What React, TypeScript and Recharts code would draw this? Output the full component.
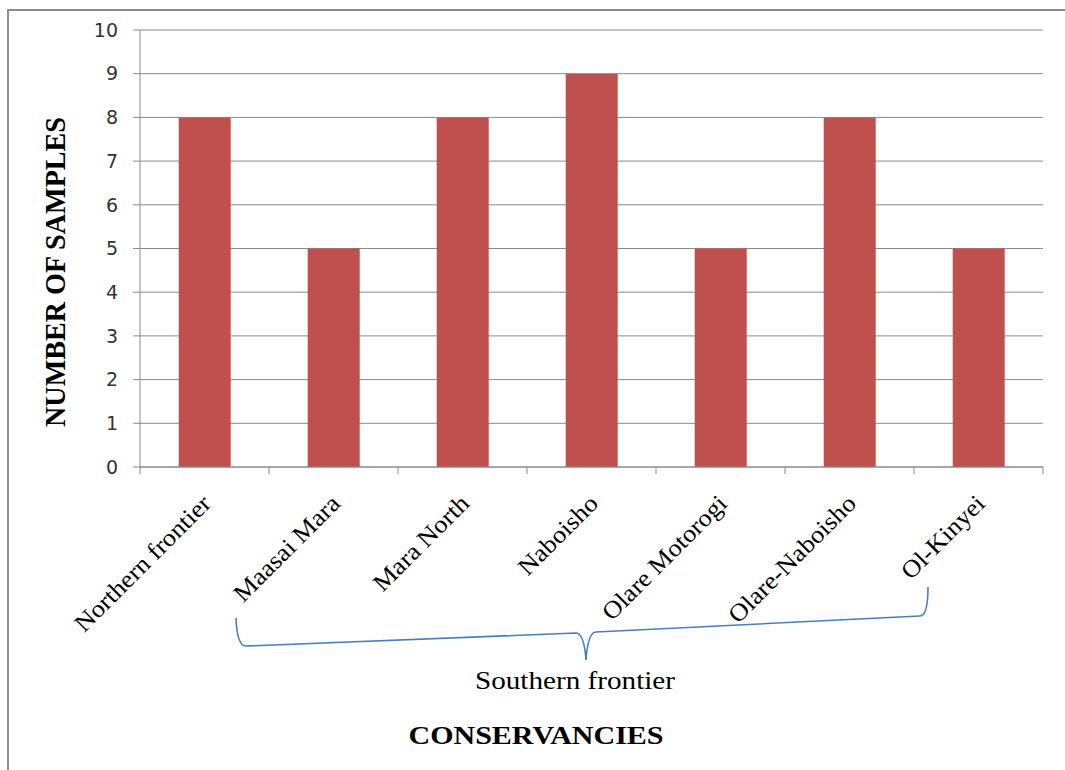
import React from "react";
import { BarChart, Bar, XAxis, YAxis, CartesianGrid } from "recharts";

// Samples collected per conservancy
const conservancies = [
  "Northern frontier",
  "Maasai Mara",
  "Mara North",
  "Naboisho",
  "Olare Motorogi",
  "Olare-Naboisho",
  "Ol-Kinyei",
];
const sampleCounts = [8, 5, 8, 9, 5, 8, 5];
const yTicks = [0, 1, 2, 3, 4, 5, 6, 7, 8, 9, 10];

const data = conservancies.map((name, i) => ({ name, samples: sampleCounts[i] }));

const W = 1065;
const H = 770;
const PLOT_LEFT = 140;
const PLOT_RIGHT = 1043;
const PLOT_TOP = 30;
const PLOT_BOTTOM = 467;
const BAND = (PLOT_RIGHT - PLOT_LEFT) / conservancies.length;

const AXIS_GREY = "#8a8a8a";
const SERIF = "'Liberation Serif', 'Times New Roman', serif";

const XTick = (props: any) => {
  const { x, payload, index } = props;
  const isLast = index === conservancies.length - 1;
  return (
    <g>
      <line x1={x - BAND / 2} x2={x - BAND / 2} y1={PLOT_BOTTOM} y2={PLOT_BOTTOM + 7} stroke={AXIS_GREY} />
      {isLast && (
        <line x1={x + BAND / 2} x2={x + BAND / 2} y1={PLOT_BOTTOM} y2={PLOT_BOTTOM + 7} stroke={AXIS_GREY} />
      )}
      <g transform={`translate(${x + 8},${PLOT_BOTTOM + 38}) rotate(-45) scale(1.08,1)`}>
        <text textAnchor="end" fontFamily={SERIF} fontSize={24.5} fill="#000">
          {payload.value}
        </text>
      </g>
    </g>
  );
};

export default function App() {
  return (
    <div style={{ position: "absolute", left: 0, top: 0, width: W, height: H, background: "#fff", overflow: "hidden" }}>
      {/* chart frame */}
      <div
        style={{
          position: "absolute",
          left: 7,
          top: 9,
          width: W,
          height: H,
          borderTop: "2px solid #8c8c8c",
          borderLeft: "2px solid #8c8c8c",
        }}
      />
      <div style={{ position: "absolute", left: 0, top: 0 }}>
        <BarChart
          width={W}
          height={H}
          data={data}
          margin={{ top: PLOT_TOP, right: W - PLOT_RIGHT, bottom: 200, left: 0 }}
          barCategoryGap="30%"
        >
          <CartesianGrid vertical={false} stroke={AXIS_GREY} strokeWidth={1} />
          <XAxis
            dataKey="name"
            interval={0}
            height={H - PLOT_BOTTOM - 200}
            axisLine={{ stroke: AXIS_GREY }}
            tickLine={false}
            tick={<XTick />}
          />
          <YAxis
            width={PLOT_LEFT}
            domain={[0, 10]}
            ticks={yTicks}
            interval={0}
            axisLine={{ stroke: AXIS_GREY }}
            tickLine={{ stroke: AXIS_GREY }}
            tickSize={7}
            tickMargin={15}
            tick={{ fontFamily: "'DejaVu Sans', Verdana, sans-serif", fontSize: 19, fill: "#333" }}
          />
          <Bar dataKey="samples" fill="#C0504D" isAnimationActive={false} />
        </BarChart>
      </div>
      {/* annotations: grouping brace and axis titles */}
      <svg width={W} height={H} style={{ position: "absolute", left: 0, top: 0, pointerEvents: "none" }}>
        <path
          d="M236,618 Q237,646 246,646 L576,633 Q584,633 586,660 Q588,632 596,632 L920,616 Q928,616 928,587"
          fill="none"
          stroke="#4A7EBB"
          strokeWidth={1.6}
        />
        <text x={575} y={689} textAnchor="middle" fontFamily={SERIF} fontSize={26} textLength={200} lengthAdjust="spacingAndGlyphs" fill="#000">
          Southern frontier
        </text>
        <text x={536} y={744} textAnchor="middle" fontFamily={SERIF} fontSize={26} fontWeight="bold" textLength={255} lengthAdjust="spacingAndGlyphs" fill="#000">
          CONSERVANCIES
        </text>
        <text
          transform="translate(65,272) rotate(-90)"
          textAnchor="middle"
          fontFamily={SERIF}
          fontSize={30}
          fontWeight="bold"
          textLength={310}
          lengthAdjust="spacingAndGlyphs"
          fill="#000"
        >
          NUMBER OF SAMPLES
        </text>
      </svg>
    </div>
  );
}
